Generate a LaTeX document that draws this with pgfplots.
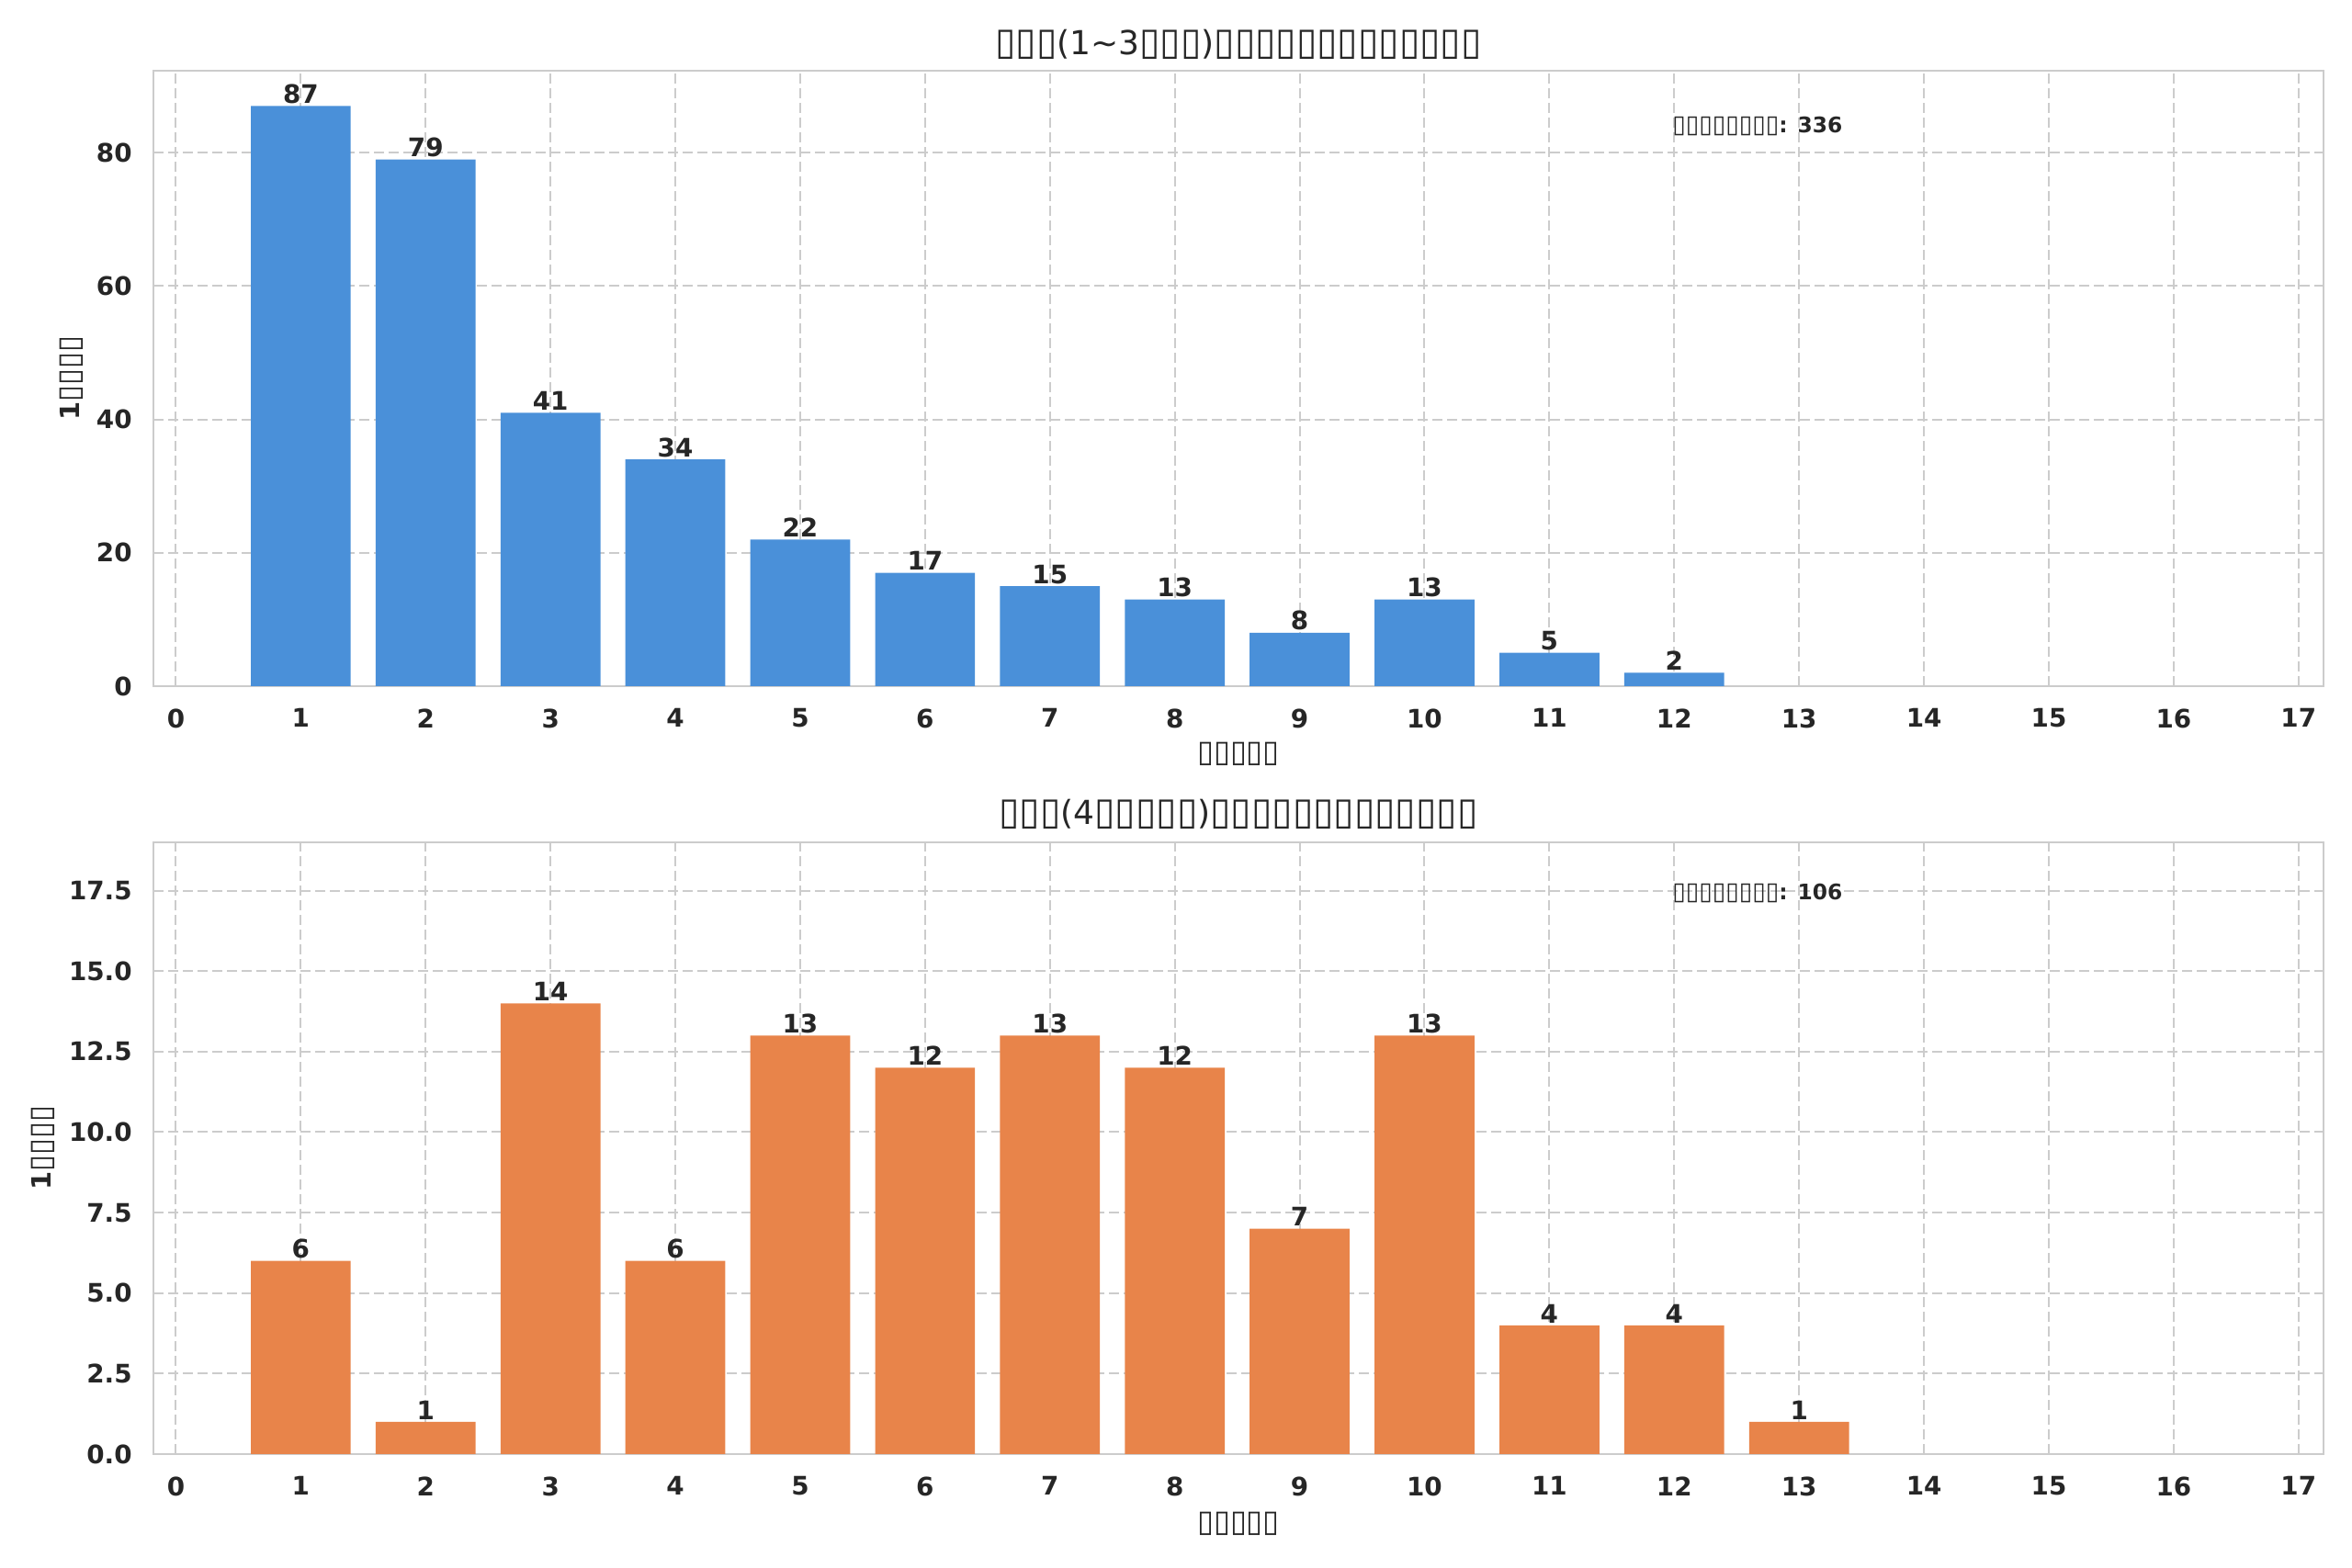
\documentclass[border=0pt]{standalone}
\usepackage{fontspec}
\setmainfont{DejaVu Sans}
\usepackage{graphicx}
\usepackage{pgfplots}
\pgfplotsset{compat=1.18}
\definecolor{barblue}{HTML}{4A90D9}
\definecolor{barorange}{HTML}{E8844A}
\definecolor{gridc}{HTML}{CCCCCC}
\definecolor{txt}{HTML}{262626}
\newcommand{\bx}{\scalebox{1.13}[1.15]{\mdseries ▯}}
\pgfplotsset{
  common/.style={
    scale only axis,
    width=1062.9pt,
    xmin=-0.18, xmax=17.2,
    ymin=0,
    xtick={0,1,...,17},
    grid=major,
    major grid style={gridc, line width=0.9pt, dash pattern=on 5pt off 2.2pt},
    axis line style={gridc, line width=1.1pt},
    major tick length=0pt,
    tick style={draw=none},
    /pgf/number format/assume math mode=true,
    ticklabel style={font=\fontsize{12.5}{14}\selectfont\bfseries, text=txt},
    xticklabel style={yshift=-7.5pt},
    yticklabel style={xshift=-7pt},
    label style={font=\fontsize{13}{15}\selectfont\bfseries, text=txt},
    title style={font=\fontsize{16.2}{18}\selectfont, text=txt, anchor=center},
    ybar,
    bar width=0.8,
    bar shift=0pt,
    nodes near coords,
    every node near coord/.append style={font=\fontsize{12.5}{14}\selectfont\bfseries, text=txt, anchor=south, inner sep=1pt},
  }
}
\begin{document}
\begin{tikzpicture}
\useasboundingbox (0,0) rectangle (1152pt,768.15pt);
\begin{axis}[common,
  at={(75.15pt,432pt)}, anchor=south west,
  height=301.5pt,
  ymax=92.3,
  ytick={0,20,40,60,80},
  title={\bx\bx\bx(1\textasciitilde3\bx\bx\bx)\bx\bx\bx\bx\bx\bx\bx\bx\bx\bx\bx\bx\bx},
  title style={at={(0.5,1.0222)}},
  xlabel={\bx\bx\bx\bx\bx},
  xlabel style={at={(0.5,-0.1104)}, anchor=center},
  ylabel={1\bx\bx\bx\bx},
  ylabel style={at={(-0.0376,0.5)}, anchor=center},
]
\addplot[fill=barblue, draw=none] coordinates {
(1,87) (2,79) (3,41) (4,34) (5,22) (6,17) (7,15) (8,13) (9,8) (10,13) (11,5) (12,2)};
\node[anchor=west, font=\fontsize{10.5}{12}\selectfont\bfseries, text=txt, inner sep=0pt] at (rel axis cs:0.6998,0.91) {\bx\bx\bx\bx\bx\bx\bx\bx: 336};
\end{axis}
\begin{axis}[common,
  at={(75.15pt,55.8pt)}, anchor=south west,
  height=299.7pt,
  ymax=19,
  ytick={0,2.5,...,17.5},
  yticklabel style={/pgf/number format/.cd, fixed, fixed zerofill, precision=1},
  title={\bx\bx\bx(4\bx\bx\bx\bx\bx)\bx\bx\bx\bx\bx\bx\bx\bx\bx\bx\bx\bx\bx},
  title style={at={(0.5,1.0253)}},
  xlabel={\bx\bx\bx\bx\bx},
  xlabel style={at={(0.5,-0.1141)}, anchor=center},
  ylabel={1\bx\bx\bx\bx},
  ylabel style={at={(-0.0508,0.5)}, anchor=center},
]
\addplot[fill=barorange, draw=none] coordinates {
(1,6) (2,1) (3,14) (4,6) (5,13) (6,12) (7,13) (8,12) (9,7) (10,13) (11,4) (12,4) (13,1)};
\node[anchor=west, font=\fontsize{10.5}{12}\selectfont\bfseries, text=txt, inner sep=0pt] at (rel axis cs:0.6998,0.917) {\bx\bx\bx\bx\bx\bx\bx\bx: 106};
\end{axis}
\end{tikzpicture}
\end{document}
